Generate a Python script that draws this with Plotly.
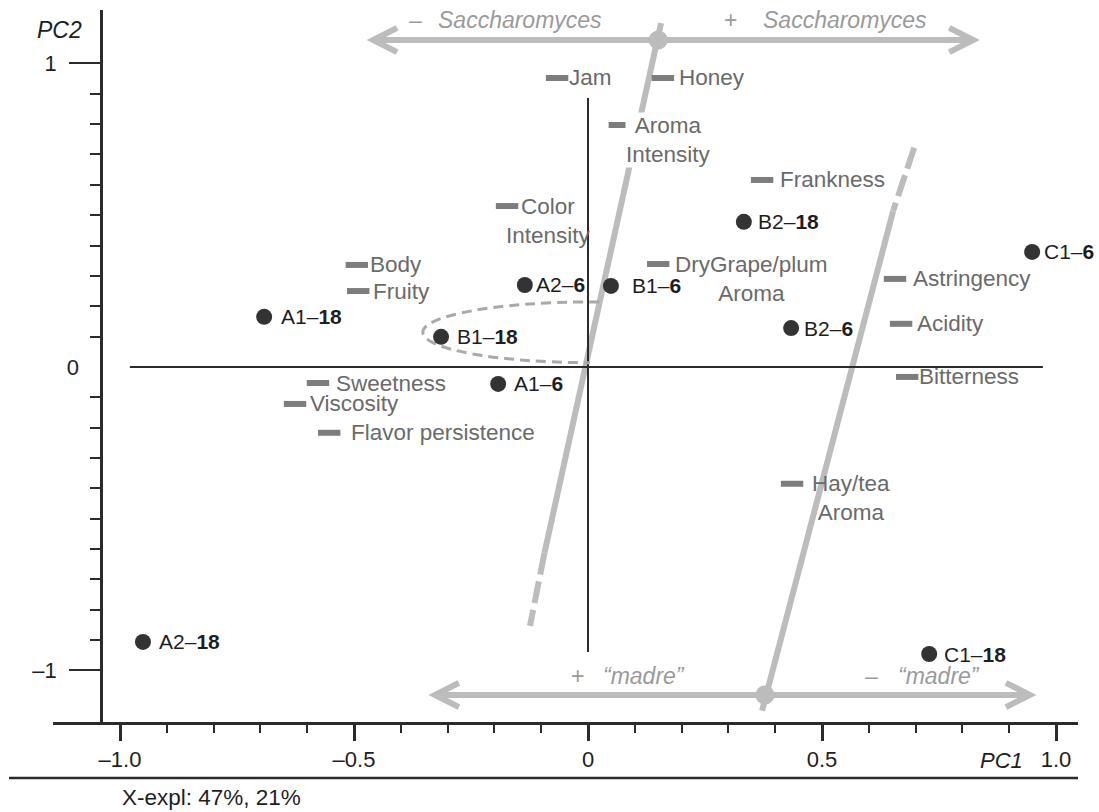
import numpy as np
import plotly.graph_objects as go

# ---------------- data: PCA scores and loadings ----------------
sample_codes = ["A1", "A1", "A2", "A2", "B1", "B1", "B2", "B2", "C1", "C1"]
sample_ages = ["6", "18", "6", "18", "6", "18", "6", "18", "6", "18"]
sample_pc1 = [-0.192, -0.692, -0.135, -0.951, 0.049, -0.314, 0.434, 0.333, 0.949, 0.729]
sample_pc2 = [-0.056, 0.165, 0.270, -0.906, 0.267, 0.099, 0.128, 0.478, 0.379, -0.946]

attributes = ["Jam", "Honey", "Aroma<br>Intensity", "Frankness", "Color<br>Intensity",
              "Body", "Fruity", "DryGrape/plum<br>Aroma", "Astringency", "Acidity",
              "Bitterness", "Sweetness", "Viscosity", "Flavor persistence", "Hay/tea<br>Aroma"]
attr_pc1 = [-0.066, 0.160, 0.068, 0.372, -0.173, -0.494, -0.491, 0.150, 0.656, 0.669,
            0.682, -0.577, -0.626, -0.553, 0.436]
attr_pc2 = [0.952, 0.952, 0.797, 0.616, 0.530, 0.336, 0.250, 0.339, 0.290, 0.142,
            -0.033, -0.053, -0.122, -0.217, -0.385]

x_tick_vals = [-1.0, -0.5, 0.0, 0.5, 1.0]
x_tick_text = ["\u20131.0", "\u20130.5", "0", "0.5", "1.0"]
y_tick_vals = [-1, 1]
y_tick_text = ["\u20131", "1"]
explained = "X-expl: 47%, 21%"

# ---------------- label placement (pixels right of the mark) ----------------
sample_label_shift = [15, 16, 10, 15, 20, 15, 12, 13, 11, 14]
attr_label_shift = [11, 15, 5, 17, -2, 12, 14, 16, 17, 15, 11, 17, 14, 21, 19]

# ---------------- styling ----------------
FONT = "Liberation Sans, Arial, Helvetica, sans-serif"
AXIS = "#2b2b2b"
GUIDE = "#bcbcbc"
GUIDE_TXT = "#9a9a9a"
ATTR_MARK = "#7d7d7d"
ATTR_TXT = "#6a6a6a"
SAMPLE_MARK = "#333333"
SAMPLE_TXT = "#1e1e1e"

X_RANGE = [-1.1432, 1.0470]
Y_RANGE = [-1.170, 1.176]

fig = go.Figure()

# guide lines for the two factors (solid part + dashed extension)
guides = [
    dict(solid=((0.156, 1.133), (-0.093, -0.613)), dashed=((-0.093, -0.613), (-0.124, -0.853))),
    dict(solid=((0.652, 0.514), (0.372, -1.133)), dashed=((0.697, 0.722), (0.652, 0.514))),
]
shapes = []
for g in guides:
    (x0, y0), (x1, y1) = g["solid"]
    shapes.append(dict(type="line", xref="x", yref="y", x0=x0, y0=y0, x1=x1, y1=y1,
                       line=dict(color=GUIDE, width=6), layer="below"))
    (x0, y0), (x1, y1) = g["dashed"]
    shapes.append(dict(type="line", xref="x", yref="y", x0=x0, y0=y0, x1=x1, y1=y1,
                       line=dict(color=GUIDE, width=6, dash="22px,7px"), layer="below"))

# horizontal double-headed arrows for the two factors
arrow_rows = [(-0.459, 0.823, 1.077), (-0.327, 0.944, -1.081)]
head_dx, head_dy = 0.051, 0.040
for xl, xr, ya in arrow_rows:
    shapes.append(dict(type="line", xref="x", yref="y", x0=xl, y0=ya, x1=xr, y1=ya,
                       line=dict(color=GUIDE, width=6), layer="below"))
    shapes.append(dict(type="path", xref="x", yref="y",
                       path=f"M {xl+head_dx},{ya+head_dy} L {xl},{ya} L {xl+head_dx},{ya-head_dy}",
                       line=dict(color=GUIDE, width=6), layer="below"))
    shapes.append(dict(type="path", xref="x", yref="y",
                       path=f"M {xr-head_dx},{ya+head_dy} L {xr},{ya} L {xr-head_dx},{ya-head_dy}",
                       line=dict(color=GUIDE, width=6), layer="below"))

# origin cross
shapes.append(dict(type="line", xref="x", yref="y", x0=-0.979, y0=0, x1=0.972, y1=0,
                   line=dict(color=AXIS, width=2), layer="below"))
shapes.append(dict(type="line", xref="x", yref="y", x0=0, y0=0.886, x1=0, y1=-0.939,
                   line=dict(color=AXIS, width=2), layer="below"))

# dashed half-ellipse around the young samples
cx, cy, rx, ry = 0.004, 0.114, 0.357, 0.100
k = 0.5523
ell = (f"M {cx+0.02},{cy+ry} L {cx},{cy+ry} "
       f"C {cx - k*rx},{cy+ry} {cx-rx},{cy + k*ry} {cx-rx},{cy} "
       f"C {cx-rx},{cy - k*ry} {cx - k*rx},{cy-ry} {cx},{cy-ry}")
shapes.append(dict(type="path", xref="x", yref="y", path=ell,
                   line=dict(color="#a9a9a9", width=3, dash="10px,6px"), layer="below"))

# rule under the axis labels
shapes.append(dict(type="line", xref="paper", yref="paper", x0=-0.0429, x1=1.0,
                   y0=-0.0787, y1=-0.0787, line=dict(color=AXIS, width=2.5)))

# factor arrow nodes
fig.add_trace(go.Scatter(x=[0.150, 0.378], y=[1.077, -1.081], mode="markers",
                         marker=dict(size=19, color=GUIDE), hoverinfo="skip",
                         showlegend=False))

# attribute loadings
fig.add_trace(go.Scatter(x=attr_pc1, y=attr_pc2, mode="markers",
                         marker=dict(symbol="line-ew", size=16,
                                     line=dict(color=ATTR_MARK, width=6)),
                         text=[a.replace("<br>", " ") for a in attributes],
                         hoverinfo="text", showlegend=False))

# sample scores
fig.add_trace(go.Scatter(x=sample_pc1, y=sample_pc2, mode="markers",
                         marker=dict(size=16, color=SAMPLE_MARK),
                         text=[f"{c}\u2013{a}" for c, a in zip(sample_codes, sample_ages)],
                         hoverinfo="text", showlegend=False))

# trace carrying the auxiliary y axis (tick at the origin)
fig.add_trace(go.Scatter(x=[None], y=[None], yaxis="y2", showlegend=False, hoverinfo="skip"))

annotations = []
for name, x, y, dx in zip(attributes, attr_pc1, attr_pc2, attr_label_shift):
    two_line = "<br>" in name
    annotations.append(dict(
        x=x, y=y, xref="x", yref="y", text=name, showarrow=False,
        xanchor="left", yanchor="middle", align="center",
        xshift=dx, yshift=-14.6 if two_line else 0, borderpad=0,
        bgcolor="white" if name.startswith("Aroma") else None,
        font=dict(family=FONT, size=22.5, color=ATTR_TXT)))

for code, age, x, y, dx in zip(sample_codes, sample_ages, sample_pc1, sample_pc2,
                               sample_label_shift):
    annotations.append(dict(
        x=x, y=y, xref="x", yref="y", text=f"{code}\u2013<b>{age}</b>", showarrow=False,
        xanchor="left", yanchor="middle", xshift=dx, borderpad=0,
        font=dict(family=FONT, size=21, color=SAMPLE_TXT)))

# factor captions
factor_text = [
    ("\u2013", -0.385, 1.143, False), ("Saccharomyces", -0.323, 1.143, True),
    ("+", 0.288, 1.143, False), ("Saccharomyces", 0.372, 1.143, True),
    ("+", -0.038, -1.018, False), ("\u201cmadre\u201d", 0.030, -1.018, True),
    ("\u2013", 0.590, -1.018, False), ("\u201cmadre\u201d", 0.660, -1.018, True),
]
for t, x, y, it in factor_text:
    annotations.append(dict(
        x=x, y=y, xref="x", yref="y", text=f"<i>{t}</i>" if it else t, showarrow=False,
        xanchor="left", yanchor="middle", borderpad=0,
        font=dict(family=FONT, size=23, color=GUIDE_TXT)))

# axis titles and footer
annotations.append(dict(x=0.833, y=0, xref="x", yref="paper", yshift=-38, text="<i>PC1</i>",
                        showarrow=False, xanchor="left", yanchor="middle",
                        font=dict(family=FONT, size=22, color=SAMPLE_TXT)))
annotations.append(dict(x=-0.0176, y=1, xref="paper", yref="paper", yshift=-20,
                        text="<i>PC2</i>", showarrow=False, xanchor="left", yanchor="middle",
                        font=dict(family=FONT, size=23, color=SAMPLE_TXT)))
annotations.append(dict(x=0.0654, y=0, xref="paper", yref="paper", yshift=-75,
                        text=explained, showarrow=False, xanchor="left", yanchor="middle",
                        font=dict(family=FONT, size=22.5, color=SAMPLE_TXT)))

y_minor = [v for v in np.round(np.arange(-0.9, 0.95, 0.1), 1) if abs(v) > 1e-9]
x_minor = [v for v in np.round(np.arange(-0.9, 0.95, 0.1), 1) if abs(v) not in (0.0, 0.5)]

fig.update_layout(
    width=1099, height=812,
    margin=dict(l=53, r=21, t=10, b=90),
    paper_bgcolor="white", plot_bgcolor="white",
    font=dict(family=FONT, color=SAMPLE_TXT),
    shapes=shapes, annotations=annotations,
    xaxis=dict(range=X_RANGE, showgrid=False, zeroline=False,
               showline=True, linecolor=AXIS, linewidth=2.5,
               tickmode="array", tickvals=x_tick_vals, ticktext=x_tick_text,
               ticks="outside", ticklen=16, tickwidth=2.5, tickcolor=AXIS,
               ticklabelstandoff=0,
               tickfont=dict(family=FONT, size=22, color=SAMPLE_TXT),
               minor=dict(tickmode="array", tickvals=x_minor, ticks="outside",
                          ticklen=8, tickwidth=2, tickcolor=AXIS)),
    yaxis=dict(range=Y_RANGE, showgrid=False, zeroline=False,
               anchor="free", position=(101 - 53) / 1025,
               showline=True, linecolor=AXIS, linewidth=2.5,
               tickmode="array", tickvals=y_tick_vals, ticktext=y_tick_text,
               ticks="outside", ticklen=31, tickwidth=2, tickcolor=AXIS,
               ticklabelstandoff=8,
               tickfont=dict(family=FONT, size=22, color=SAMPLE_TXT),
               minor=dict(tickmode="array", tickvals=y_minor, ticks="outside",
                          ticklen=10, tickwidth=2, tickcolor=AXIS)),
    yaxis2=dict(range=Y_RANGE, overlaying="y", anchor="free",
                position=(101 - 53) / 1025, showgrid=False, zeroline=False,
                showline=False, tickmode="array", tickvals=[0], ticktext=["0"],
                ticks="", ticklabelstandoff=22,
                tickfont=dict(family=FONT, size=22, color=SAMPLE_TXT)),
    showlegend=False,
)

fig.write_html("out.html")
